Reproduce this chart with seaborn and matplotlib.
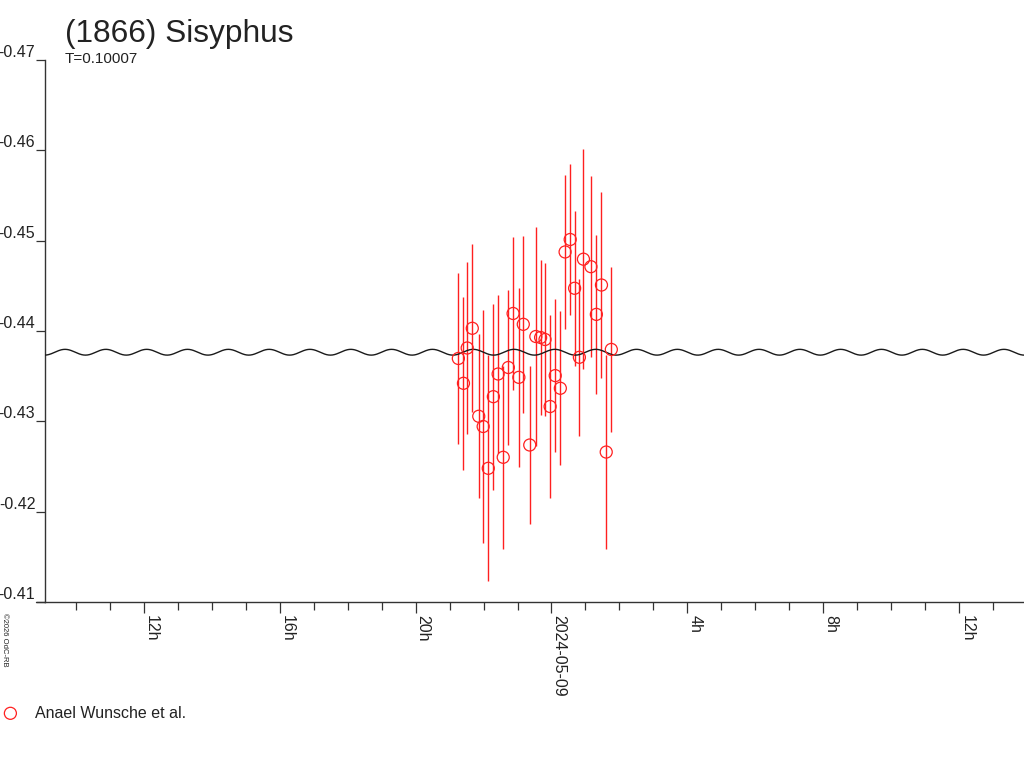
import matplotlib
matplotlib.use("Agg")
import matplotlib.pyplot as plt
from matplotlib.lines import Line2D
from matplotlib.ticker import FixedLocator, MultipleLocator
import numpy as np
import pandas as pd
import seaborn as sns

# observation times, hours from 2024-05-09 00:00 UT
obs_hours = [-2.74, -2.59, -2.48, -2.33, -2.14, -2.01, -1.86, -1.71, -1.57, -1.42,
             -1.27, -1.13, -0.96, -0.83, -0.64, -0.46, -0.32, -0.19, -0.04, 0.11,
             0.26, 0.40, 0.55, 0.68, 0.82, 0.94, 1.16, 1.32, 1.47, 1.61, 1.76]
obs_mag = [-0.43696, -0.43421, -0.43812, -0.44030, -0.43056, -0.42943, -0.42480,
           -0.43273, -0.43524, -0.42602, -0.43596, -0.44194, -0.43487, -0.44074,
           -0.42738, -0.43939, -0.43928, -0.43906, -0.43164, -0.43506, -0.43366,
           -0.44875, -0.45013, -0.44473, -0.43709, -0.44795, -0.44712, -0.44184,
           -0.44509, -0.42660, -0.43796]
obs_err = [0.0095, 0.0096, 0.0095, 0.0093, 0.0091, 0.0129, 0.0125, 0.0103, 0.0087,
           0.0101, 0.0086, 0.0085, 0.0099, 0.0098, 0.0087, 0.0121, 0.0086, 0.0085,
           0.0101, 0.0085, 0.0085, 0.0085, 0.0084, 0.0086, 0.0087, 0.0122, 0.0100,
           0.0088, 0.0103, 0.0107, 0.0091]
observer = "Anael Wunsche et al."

# fitted lightcurve model (second harmonic of the period T)
period_days = 0.10007
model_mean = -0.43765
model_amp = 0.00032
model_peak_hour = -14.31

x_range = (-14.90, 13.90)
x_major = [-12, -8, -4, 0, 4, 8, 12]
x_labels = ["12h", "16h", "20h", "2024-05-09", "4h", "8h", "12h"]
y_ticks = [-0.47, -0.46, -0.45, -0.44, -0.43, -0.42, -0.41]
y_labels = ["-0.47", "-0.46", "-0.45", "-0.44", "-0.43", "-0.42", "-0.41"]

df = pd.DataFrame({"hours": obs_hours, "mag": obs_mag, "err": obs_err})

t_model = np.linspace(x_range[0], x_range[1], 2000)
half_period_h = period_days * 24 / 2
model = pd.DataFrame({
    "hours": t_model,
    "mag": model_mean - model_amp * np.cos(2 * np.pi * (t_model - model_peak_hour) / half_period_h),
})

sns.set_theme(style="white")
plt.rcParams["font.family"] = ["Liberation Sans", "DejaVu Sans"]
plt.rcParams["axes.unicode_minus"] = False

fig = plt.figure(figsize=(10.24, 7.68), dpi=100)
ax = fig.add_axes([45 / 1024, 166 / 768, 979 / 1024, 542 / 768])

sns.lineplot(ax=ax, data=model, x="hours", y="mag", color="#1a1a1a",
             linewidth=1.0, zorder=3)
ax.vlines(df["hours"], df["mag"] - df["err"], df["mag"] + df["err"],
          color="#ff2020", linewidth=1.0, zorder=2)
sns.scatterplot(ax=ax, data=df, x="hours", y="mag", marker="o", s=75,
                facecolor="none", edgecolor="#ff2020", linewidth=0.9,
                label=observer, zorder=4)

ax.set_xlim(*x_range)
ax.set_ylim(-0.41, -0.47)
ax.set_xlabel("")
ax.set_ylabel("")

ax.xaxis.set_major_locator(FixedLocator(x_major))
ax.set_xticklabels(x_labels)
ax.xaxis.set_minor_locator(MultipleLocator(1))
ax.set_yticks(y_ticks)
ax.set_yticklabels(y_labels)

for side in ("top", "right"):
    ax.spines[side].set_visible(False)
for side in ("left", "bottom"):
    ax.spines[side].set_color("#333333")
    ax.spines[side].set_linewidth(1.0)

ax.tick_params(axis="x", which="major", direction="out", length=8, width=0.9,
               color="#333333", labelsize=11.5, labelcolor="#222222", pad=1.5,
               bottom=True)
ax.tick_params(axis="x", which="minor", direction="out", length=6, width=0.9,
               color="#333333", bottom=True)
ax.tick_params(axis="y", which="major", direction="out", length=6.5, width=0.9,
               color="#333333", labelsize=11.5, labelcolor="#222222", pad=0.5,
               left=True)
for lab in ax.get_xticklabels():
    lab.set_rotation(270)
    lab.set_horizontalalignment("left")
    lab.set_verticalalignment("top")
for lab in ax.get_yticklabels():
    lab.set_verticalalignment("bottom")

# short stub of the time axis left of the y axis
fig.add_artist(Line2D([36 / 1024, 45 / 1024], [166 / 768, 166 / 768],
                      color="#333333", linewidth=1.0))

fig.text(65 / 1024, 1 - 42 / 768, "(1866) Sisyphus", fontsize=22.8,
         color="#222222", va="baseline")
fig.text(65 / 1024, 1 - 63 / 768, f"T={period_days}", fontsize=11,
         color="#222222", va="baseline")
fig.text(1 / 1024, 1 - 613 / 768, "\u00a92026 OdC-RB", fontsize=5.5,
         color="#222222", rotation=270, ha="left", va="top")

ax.legend(loc="center left", bbox_to_anchor=(2.4 / 1024, 1 - 713 / 768),
          bbox_transform=fig.transFigure, frameon=False, borderpad=0,
          borderaxespad=0, handlelength=1.0, handletextpad=1.05,
          fontsize=11.5, labelcolor="#222222")

fig.savefig("out.png", dpi=100, facecolor="white")
